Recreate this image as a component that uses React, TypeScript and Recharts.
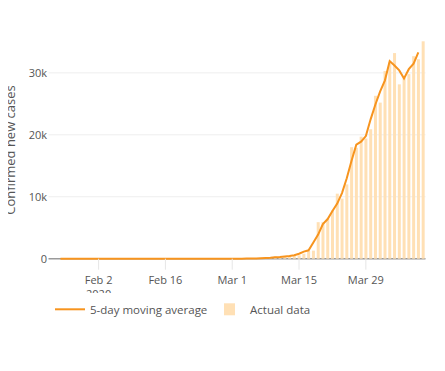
import React from 'react';
import { ComposedChart, Bar, Line, XAxis, YAxis, CartesianGrid } from 'recharts';

const dates: string[] = [
  'Jan 23', 'Jan 24', 'Jan 25', 'Jan 26', 'Jan 27', 'Jan 28', 'Jan 29', 'Jan 30', 'Jan 31',
  'Feb 1', 'Feb 2', 'Feb 3', 'Feb 4', 'Feb 5', 'Feb 6', 'Feb 7', 'Feb 8', 'Feb 9', 'Feb 10',
  'Feb 11', 'Feb 12', 'Feb 13', 'Feb 14', 'Feb 15', 'Feb 16', 'Feb 17', 'Feb 18', 'Feb 19', 'Feb 20',
  'Feb 21', 'Feb 22', 'Feb 23', 'Feb 24', 'Feb 25', 'Feb 26', 'Feb 27', 'Feb 28', 'Feb 29',
  'Mar 1', 'Mar 2', 'Mar 3', 'Mar 4', 'Mar 5', 'Mar 6', 'Mar 7', 'Mar 8', 'Mar 9', 'Mar 10',
  'Mar 11', 'Mar 12', 'Mar 13', 'Mar 14', 'Mar 15', 'Mar 16', 'Mar 17', 'Mar 18', 'Mar 19', 'Mar 20',
  'Mar 21', 'Mar 22', 'Mar 23', 'Mar 24', 'Mar 25', 'Mar 26', 'Mar 27', 'Mar 28', 'Mar 29', 'Mar 30', 'Mar 31',
  'Apr 1', 'Apr 2', 'Apr 3', 'Apr 4', 'Apr 5', 'Apr 6', 'Apr 7', 'Apr 8', 'Apr 9', 'Apr 10',
];

const actualData: number[] = [
  0, 1, 0, 3, 0, 0, 0, 0, 2,
  1, 0, 3, 0, 0, 0, 0, 0, 0, 0,
  1, 0, 1, 0, 0, 0, 0, 0, 0, 0,
  2, 0, 0, 36, 0, 6, 1, 2, 8,
  6, 24, 20, 31, 68, 45, 140, 116, 65, 376,
  322, 382, 400, 450, 550, 800, 1250, 1300, 5900, 5900,
  6400, 7800, 10500, 9700, 12000, 18000, 17900, 19700, 19400, 20900, 26300,
  25200, 30300, 31700, 33200, 28150, 29200, 29800, 32700, 32200, 35100,
];

const movingAverage: (number | null)[] = [
  null, null, 1, 1, 1, 1, 1, 0, 1,
  1, 1, 1, 1, 1, 1, 0, 0, 0, 0,
  0, 0, 0, 0, 0, 0, 0, 0, 0, 0,
  0, 8, 8, 8, 9, 9, 2, 3, 8,
  4, 8, 12, 18, 30, 38, 61, 100, 140, 220,
  280, 360, 430, 550, 800, 1150, 1350, 2600, 3900, 5600,
  6400, 7700, 8900, 10600, 13000, 15800, 18400, 18900, 19800, 22500, 24900,
  27000, 28800, 31900, 31200, 30400, 29100, 30600, 31500, 33300, null,
];

const xTicks: string[] = ['Feb 2', 'Feb 16', 'Mar 1', 'Mar 15', 'Mar 29'];
const yTicks: number[] = [0, 10000, 20000, 30000];
const gridValues: number[] = [10000, 20000, 30000];
const zeroValue: number[] = [0];
const yMax = 35100;
const yearLabel = '2020';
const yTitle = 'Confirmed new cases';
const lineName = '5-day moving average';
const barName = 'Actual data';

const LINE_COLOR = '#f7941e';
const BAR_COLOR = '#ffe0b5';
const TEXT_COLOR = '#555';
const FONT = '"Open Sans", sans-serif';

const data = dates.map((d, i) => ({ date: d, actual: actualData[i], avg: movingAverage[i] }));

const XTick = (props: any) => {
  const { x, y, payload } = props;
  return (
    <g>
      <text x={x} y={y} dy="0.71em" textAnchor="middle" fill={TEXT_COLOR} fontSize={11} fontFamily={FONT}>
        {payload.value}
      </text>
      {payload.value === xTicks[0] && (
        <text x={x} y={y + 14} dy="0.71em" textAnchor="middle" fill={TEXT_COLOR} fontSize={11} fontFamily={FONT}>
          {yearLabel}
        </text>
      )}
    </g>
  );
};

const YTitle = (props: any) => {
  const vb = props.viewBox || { x: 0, y: 0, width: 0, height: 0 };
  const cx = vb.x + 10;
  const cy = vb.y + vb.height / 2;
  return (
    <text
      x={cx}
      y={cy}
      transform={`rotate(-90, ${cx}, ${cy})`}
      textAnchor="middle"
      dominantBaseline="central"
      fill={TEXT_COLOR}
      fontSize={13}
      fontFamily={FONT}
    >
      {yTitle}
    </text>
  );
};

export default function App() {
  return (
    <div style={{ fontFamily: FONT, width: 445, margin: '-8px 0 0 -8px' }}>
      <ComposedChart
        width={445}
        height={293}
        data={data}
        margin={{ top: 41.3, right: 19.5, bottom: 0, left: 0 }}
        barCategoryGap="20%"
      >
        <CartesianGrid horizontal vertical={false} horizontalValues={gridValues} stroke="#eeeeee" />
        <CartesianGrid horizontal vertical={false} horizontalValues={zeroValue} stroke="#9a9a9a" strokeWidth={1.5} />
        <XAxis
          dataKey="date"
          ticks={xTicks}
          interval={0}
          height={34.3}
          tickSize={11}
          tickMargin={6.3}
          tickLine={{ stroke: '#e6e6e6' }}
          axisLine={false}
          tick={<XTick />}
        />
        <YAxis
          width={48.5}
          domain={[0, yMax]}
          ticks={yTicks}
          axisLine={false}
          tickLine={false}
          tickSize={0}
          tickMargin={1.5}
          tick={{ fill: TEXT_COLOR, fontSize: 11, fontFamily: FONT }}
          tickFormatter={(v: number) => (v === 0 ? '0' : `${v / 1000}k`)}
          label={{ content: <YTitle /> }}
        />
        <Bar dataKey="actual" name={barName} fill={BAR_COLOR} isAnimationActive={false} />
        <Line
          dataKey="avg"
          name={lineName}
          type="linear"
          stroke={LINE_COLOR}
          strokeWidth={2}
          dot={false}
          activeDot={false}
          isAnimationActive={false}
        />
      </ComposedChart>
      <svg width={445} height={40} style={{ display: 'block' }}>
        <line x1={55} x2={85} y1={16.3} y2={16.3} stroke={LINE_COLOR} strokeWidth={2} />
        <text x={90} y={16.5} dominantBaseline="central" fill={TEXT_COLOR} fontSize={11.5} fontFamily={FONT}>
          {lineName}
        </text>
        <rect x={224} y={10.3} width={11} height={12} fill={BAR_COLOR} />
        <text x={250} y={16.5} dominantBaseline="central" fill={TEXT_COLOR} fontSize={11.5} fontFamily={FONT}>
          {barName}
        </text>
      </svg>
    </div>
  );
}
